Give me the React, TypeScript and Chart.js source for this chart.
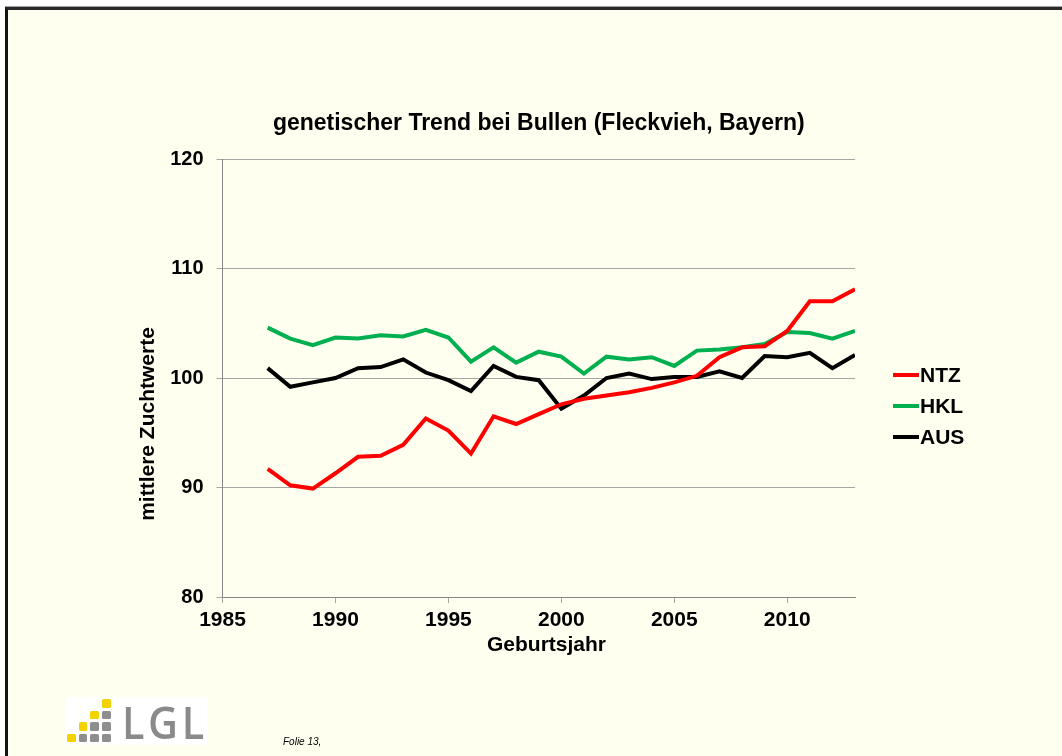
import React, { useEffect, useRef } from "react";
import { Chart, registerables } from "chart.js";

Chart.register(...registerables);

// ---- data ----
const years = [1987, 1988, 1989, 1990, 1991, 1992, 1993, 1994, 1995, 1996, 1997, 1998, 1999, 2000, 2001, 2002, 2003, 2004, 2005, 2006, 2007, 2008, 2009, 2010, 2011, 2012, 2013];
const ntz = [91.7, 90.2, 89.9, 91.3, 92.8, 92.9, 93.9, 96.3, 95.2, 93.1, 96.5, 95.8, 96.7, 97.6, 98.1, 98.4, 98.7, 99.1, 99.6, 100.2, 101.9, 102.8, 102.9, 104.3, 107.0, 107.0, 108.1];
const hkl = [104.6, 103.6, 103.0, 103.7, 103.6, 103.9, 103.8, 104.4, 103.7, 101.5, 102.8, 101.4, 102.4, 101.95, 100.4, 101.95, 101.7, 101.9, 101.1, 102.5, 102.6, 102.8, 103.1, 104.2, 104.1, 103.6, 104.3];
const aus = [100.9, 99.2, 99.6, 100.0, 100.9, 101.0, 101.7, 100.5, 99.8, 98.8, 101.1, 100.1, 99.8, 97.2, 98.4, 100.0, 100.4, 99.9, 100.1, 100.1, 100.6, 100.0, 102.0, 101.9, 102.3, 100.9, 102.1];
const seriesLabels = ["NTZ", "HKL", "AUS"];
const seriesColors = ["#FF0000", "#00B050", "#000000"];

const titleText = "genetischer Trend bei Bullen (Fleckvieh, Bayern)";
const xTitle = "Geburtsjahr";
const yTitle = "mittlere Zuchtwerte";
const xMin = 1985;
const xMax = 2013;
const xStep = 5;
const yMin = 80;
const yMax = 120;
const yStep = 10;
const footerText = "Folie 13,";

const FONT = '"Liberation Sans", Arial, Helvetica, sans-serif';

const sideTextPlugin = {
  id: "sideText",
  afterDraw(chart: any) {
    const { ctx, chartArea: a } = chart;
    ctx.save();
    ctx.fillStyle = "#000";
    ctx.font = `bold 21px ${FONT}`;
    ctx.textAlign = "center";
    ctx.textBaseline = "middle";
    // x axis title
    ctx.fillText(xTitle, a.left + 324, a.bottom + 48);
    // y axis title
    ctx.save();
    ctx.translate(a.left - 74.5, a.top + 265);
    ctx.rotate(-Math.PI / 2);
    ctx.fillText(yTitle, 0, 0);
    ctx.restore();
    // legend
    ctx.font = `bold 21px ${FONT}`;
    chart.data.datasets.forEach((ds: any, i: number) => {
      const y = a.top + 216 + i * 31;
      ctx.strokeStyle = ds.borderColor;
      ctx.lineWidth = 4;
      ctx.beginPath();
      ctx.moveTo(a.right + 38, y);
      ctx.lineTo(a.right + 64, y);
      ctx.stroke();
      ctx.textAlign = "left";
      ctx.fillText(ds.label, a.right + 65, y + 1);
    });
    ctx.restore();
  },
};

function ChartCanvas() {
  const ref = useRef<HTMLCanvasElement | null>(null);
  useEffect(() => {
    if (!ref.current) return;
    const seriesValues = [ntz, hkl, aus];
    const chart = new Chart(ref.current, {
      type: "line",
      data: {
        datasets: seriesValues.map((vals, i) => ({
          label: seriesLabels[i],
          data: years.map((yr, j) => ({ x: yr, y: vals[j] })),
          borderColor: seriesColors[i],
          backgroundColor: seriesColors[i],
          borderWidth: 4,
          pointRadius: 0,
          tension: 0,
          fill: false,
        })),
      },
      options: {
        animation: false,
        responsive: false,
        devicePixelRatio: 1,
        layout: { padding: { top: 110.2, left: 0, right: 207, bottom: 0 } },
        plugins: {
          legend: { display: false },
          tooltip: { enabled: false },
          title: {
            display: true,
            text: titleText,
            fullSize: false,
            color: "#000",
            font: { family: FONT, size: 23, weight: "bold" },
            padding: { top: 0, bottom: 21.2 },
          },
        },
        scales: {
          x: {
            type: "linear",
            min: xMin,
            max: xMax,
            afterFit: (s: any) => {
              s.height = 159;
            },
            ticks: {
              stepSize: xStep,
              includeBounds: false,
              autoSkip: false,
              maxRotation: 0,
              padding: 5,
              color: "#000",
              font: { family: FONT, size: 21, weight: "bold" },
              callback: (v: any) => String(v),
            },
            grid: { drawOnChartArea: false, drawTicks: true, tickLength: 6, color: "#A6A6A6" },
            border: { color: "#868686", width: 1 },
          },
          y: {
            min: yMin,
            max: yMax,
            afterFit: (s: any) => {
              s.width = 222.5;
            },
            ticks: {
              stepSize: yStep,
              padding: 13,
              color: "#000",
              font: { family: FONT, size: 20, weight: "bold" },
              callback: (v: any) => String(v),
            },
            grid: { color: "#A6A6A6", tickLength: 6 },
            border: { color: "#868686", width: 1 },
          },
        },
      },
      plugins: [sideTextPlugin],
    });
    return () => chart.destroy();
  }, []);
  return <canvas ref={ref} width={1062} height={756} style={{ position: "absolute", left: 0, top: 0 }} />;
}

function Logo() {
  const Y = "#F2D300";
  const G = "#8E8E8E";
  // rows from top to bottom, columns left to right
  const grid = [
    [null, null, null, Y],
    [null, null, Y, G],
    [null, Y, G, G],
    [Y, G, G, G],
  ];
  return (
    <div style={{ position: "absolute", left: 66, top: 697, width: 141, height: 48, background: "#FFFFFF" }}>
      {grid.map((row, r) =>
        row.map((c, col) =>
          c ? (
            <div
              key={`${r}-${col}`}
              style={{
                position: "absolute",
                left: 1 + col * 11.7,
                top: 2 + r * 11.5,
                width: 8.5,
                height: 8.5,
                borderRadius: 1.5,
                background: c,
              }}
            />
          ) : null
        )
      )}
      <div
        style={{
          position: "absolute",
          left: 56,
          top: -4,
          fontFamily: '"Open Sans", "Liberation Sans", sans-serif',
          fontWeight: 600,
          fontSize: 46,
          color: "#8A8A8A",
          letterSpacing: 4,
          lineHeight: "56px",
          transform: "scaleX(0.9)",
          transformOrigin: "left center",
        }}
      >
        LGL
      </div>
    </div>
  );
}

export default function App() {
  return (
    <div style={{ position: "fixed", left: 0, top: 0, width: 1062, height: 756, background: "#FFFFFF", overflow: "hidden" }}>
      <div
        style={{
          position: "absolute",
          left: 5,
          top: 7,
          width: 1060,
          height: 760,
          background: "#FFFFF0",
          borderTop: "3px solid #2a2a2a",
          borderLeft: "3px solid #151515",
          boxShadow: "0 -1px 0 #A0A0A0",
        }}
      />
      <ChartCanvas />
      <Logo />
      <div
        style={{
          position: "absolute",
          left: 283,
          top: 736,
          fontFamily: FONT,
          fontStyle: "italic",
          fontSize: 10,
          color: "#000",
        }}
      >
        {footerText}
      </div>
    </div>
  );
}
